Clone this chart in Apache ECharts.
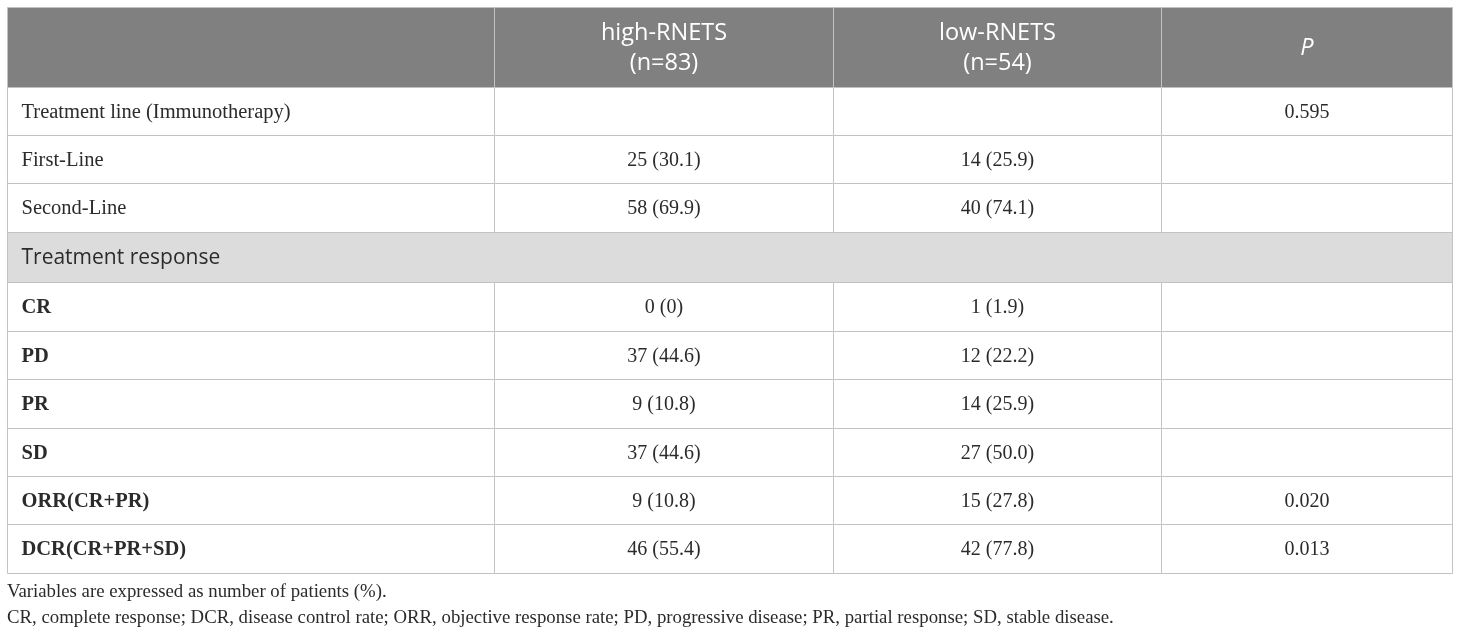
<!DOCTYPE html>
<html>
<head>
<meta charset="utf-8">
<script src="https://cdn.jsdelivr.net/npm/echarts@6/dist/echarts.min.js"></script>
<style>
  html, body { margin: 0; padding: 0; background: #fff; }
  #main { width: 1460px; height: 635px; }
</style>
</head>
<body>
<div id="main"></div>
<script>
// table content
const headers = ['', 'high-RNETS\n(n=83)', 'low-RNETS\n(n=54)', 'P']
const rowLabels = ['Treatment line (Immunotherapy)', 'First-Line', 'Second-Line', 'Treatment response',
  'CR', 'PD', 'PR', 'SD', 'ORR(CR+PR)', 'DCR(CR+PR+SD)']
const highN = [null, 25, 58, null, 0, 37, 9, 37, 9, 46]
const highPct = [null, 30.1, 69.9, null, 0, 44.6, 10.8, 44.6, 10.8, 55.4]
const lowN = [null, 14, 40, null, 1, 12, 14, 27, 15, 42]
const lowPct = [null, 25.9, 74.1, null, 1.9, 22.2, 25.9, 50.0, 27.8, 77.8]
const pValues = ['0.595', '', '', '', '', '', '', '', '0.020', '0.013']
const sectionRows = [3]
const boldRows = [4, 5, 6, 7, 8, 9]
const notes = [
  'Variables are expressed as number of patients (%).',
  'CR, complete response; DCR, disease control rate; ORR, objective response rate; PD, progressive disease; PR, partial response; SD, stable disease.'
]

// layout (axis units = px inside the grid)
const colEdges = [0, 487, 826, 1154, 1445]
const rowEdges = [0, 80, 128, 176, 225, 275, 324, 372, 421, 469, 517, 566]

const SERIF = '"Liberation Serif", "DejaVu Serif", serif'
const SANS = '"Open Sans", "Noto Sans", sans-serif'

const fmt = (n, p) => n === null ? '' : n + ' (' + (p === 0 ? '0' : p.toFixed(1)) + ')'

const cells = []
headers.forEach((h, c) => {
  cells.push({ c0: c, c1: c + 1, r: 0, text: h, kind: 'head', italic: c === 3 })
})
rowLabels.forEach((lab, i) => {
  const r = i + 1
  if (sectionRows.includes(i)) {
    cells.push({ c0: 0, c1: 4, r, text: lab, kind: 'section' })
    return
  }
  cells.push({ c0: 0, c1: 1, r, text: lab, kind: 'label', bold: boldRows.includes(i) })
  cells.push({ c0: 1, c1: 2, r, text: fmt(highN[i], highPct[i]), kind: 'val' })
  cells.push({ c0: 2, c1: 3, r, text: fmt(lowN[i], lowPct[i]), kind: 'val' })
  cells.push({ c0: 3, c1: 4, r, text: pValues[i], kind: 'val' })
})

const renderCell = (params, api) => {
  const cell = cells[params.dataIndex]
  const p0 = api.coord([colEdges[cell.c0], rowEdges[cell.r]])
  const p1 = api.coord([colEdges[cell.c1], rowEdges[cell.r + 1]])
  const x = p0[0], y = p0[1], w = p1[0] - p0[0], h = p1[1] - p0[1]
  let fill = '#fff', color = '#2b2b2b', font = '20px ' + SERIF, align = 'center', tx = x + w / 2
  if (cell.kind === 'head') {
    fill = '#808080'; color = '#fff'
    font = (cell.italic ? 'italic ' : '') + '23.5px ' + SANS
  } else if (cell.kind === 'section') {
    fill = '#dcdcdc'; font = '21px ' + SANS; align = 'left'; tx = x + 14
  } else if (cell.kind === 'label') {
    font = (cell.bold ? 'bold ' : '') + '20.5px ' + SERIF; align = 'left'; tx = x + 14
  }
  return {
    type: 'group',
    children: [
      { type: 'rect', shape: { x, y, width: w, height: h },
        style: { fill, stroke: '#c2c2c2', lineWidth: 1 } },
      { type: 'text',
        style: { text: cell.text, x: tx, y: y + h / 2 + 1, fill: color, font,
          align, verticalAlign: 'middle', lineHeight: 30 } }
    ]
  }
}

const myChart = echarts.init(document.getElementById('main'))
myChart.setOption({
  animation: false,
  grid: { left: 7.5, top: 7.5, width: 1445, height: 566 },
  xAxis: { type: 'value', min: 0, max: 1445, show: false },
  yAxis: { type: 'value', min: 0, max: 566, inverse: true, show: false },
  graphic: notes.map((t, i) => ({
    type: 'text', left: 7, top: 583 + i * 25.5,
    style: { text: t, fill: '#2b2b2b', font: '18.8px ' + SERIF }
  })),
  series: [{
    type: 'custom',
    renderItem: renderCell,
    data: cells.map(c => [colEdges[c.c0], rowEdges[c.r]])
  }]
})
</script>
</body>
</html>
